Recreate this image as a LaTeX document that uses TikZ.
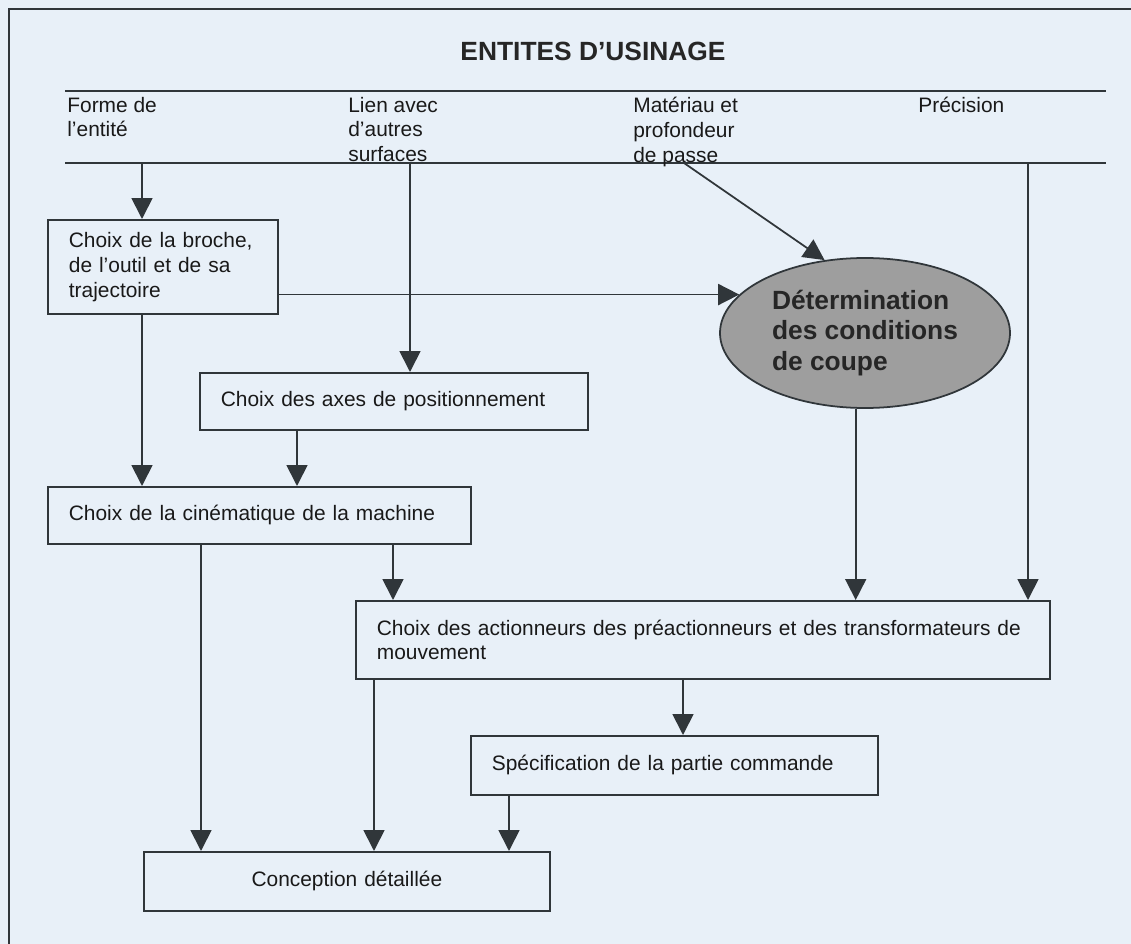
\documentclass[tikz,border=0pt]{standalone}
\usepackage{fontspec}
\setmainfont{Liberation Sans}
\usepackage{xcolor}
\usetikzlibrary{arrows.meta,shapes.geometric}

\definecolor{paper}{RGB}{232,240,248}
\definecolor{ink}{RGB}{48,54,58}
\definecolor{stone}{RGB}{158,158,158}
\newcommand{\blockfont}{\fontsize{11.9}{14.2}\selectfont}
\newcommand{\bigfont}{\fontsize{15}{17.6}\selectfont\bfseries}

\begin{document}
\begin{tikzpicture}[%
% common options for the lines and links:
rule/.style = {draw=ink, line width=1pt},
link/.style = {draw=ink, line width=1pt, ->},
>={Triangle[length=0.42cm,width=0.42cm]},
% common options for the headings:
heading/.style = {align=left, anchor=north west, inner sep=0, font=\blockfont, text=black!90},
% common options for blocks:
block/.style = {draw=ink, line width=1pt, align=left, anchor=north west,
            inner xsep=0.42cm, inner ysep=0, font=\blockfont, text=black!90},
% common options for the ellipse:
oval/.style = {ellipse, draw=ink, line width=1pt, fill=stone, align=left,
            inner sep=0, font=\bigfont, text=black!85}]
\fill[paper] (0,0) rectangle (22.62,-18.88);
\useasboundingbox (0,0) rectangle (22.62,-18.88);
% frame and header lines
\draw[rule] (0.18,-18.88) -- (0.18,-0.18) -- (22.62,-0.18);
\draw[rule] (1.3,-1.82) -- (22.12,-1.82);
\draw[rule] (1.3,-3.26) -- (22.12,-3.26);
\node[anchor=base,font=\bigfont,text=black!85] (E0) at (11.86,-1.22) {ENTITES D'USINAGE};
\node[heading] (H1) at (1.34,-1.93) {Forme de\\l'entité};
\node[heading] (H2) at (6.96,-1.93) {Lien avec\\d'autres\\surfaces};
\node[heading] (H3) at (12.66,-1.93) {Matériau et\\profondeur\\de passe};
\node[heading] (H4) at (18.36,-1.93) {Précision};
% blocks
\node[block,text width=3.76cm,minimum height=1.88cm] (C1) at (0.94,-4.38) {Choix de la broche,\\de l'outil et de sa\\trajectoire};
\node[block,text width=6.92cm,minimum height=1.14cm] (C2) at (3.98,-7.44) {Choix des axes de positionnement};
\node[block,text width=7.62cm,minimum height=1.14cm] (C3) at (0.94,-9.72) {Choix de la cinématique de la machine};
\node[block,text width=13.04cm,minimum height=1.56cm] (C4) at (7.10,-12.0) {Choix des actionneurs des préactionneurs et des transformateurs de mouvement};
\node[block,text width=7.30cm,minimum height=1.18cm] (C5) at (9.40,-14.70) {Spécification de la partie commande};
\node[block,text width=7.28cm,minimum height=1.18cm,align=center] (C6) at (2.86,-17.02) {Conception détaillée};
\node[oval,minimum width=5.8cm,minimum height=3cm] (D) at (17.3,-6.66) {Détermination\\des conditions\\de coupe};
% x positions of the vertical links
\coordinate (R2) at (0,-3.26);
\coordinate (F3) at (13.68,-3.26);
\coordinate (L1) at (2.84,0);
\coordinate (L2) at (8.20,0);
\coordinate (L3) at (20.56,0);
\coordinate (L4) at (5.94,0);
\coordinate (L5) at (4.02,0);
\coordinate (L6) at (7.86,0);
\coordinate (L7) at (7.48,0);
\coordinate (L8) at (13.66,0);
\coordinate (L9) at (10.18,0);
\draw[link] (L1 |- R2) -- (L1 |- C1.north);
\draw[link] (L2 |- R2) -- (L2 |- C2.north);
\draw[link] (F3) -- (D.119);
\draw[link] (L3 |- R2) -- (L3 |- C4.north);
\draw[link] (C1.east |- D.163) -- (D.163);
\draw[link] (L1 |- C1.south) -- (L1 |- C3.north);
\draw[link] (L4 |- C2.south) -- (L4 |- C3.north);
\draw[link] (L6 |- C3.south) -- (L6 |- C4.north);
\draw[link] (D.263) -- (D.263 |- C4.north);
\draw[link] (L5 |- C3.south) -- (L5 |- C6.north);
\draw[link] (L7 |- C4.south) -- (L7 |- C6.north);
\draw[link] (L8 |- C4.south) -- (L8 |- C5.north);
\draw[link] (L9 |- C5.south) -- (L9 |- C6.north);
\end{tikzpicture}
\end{document}
